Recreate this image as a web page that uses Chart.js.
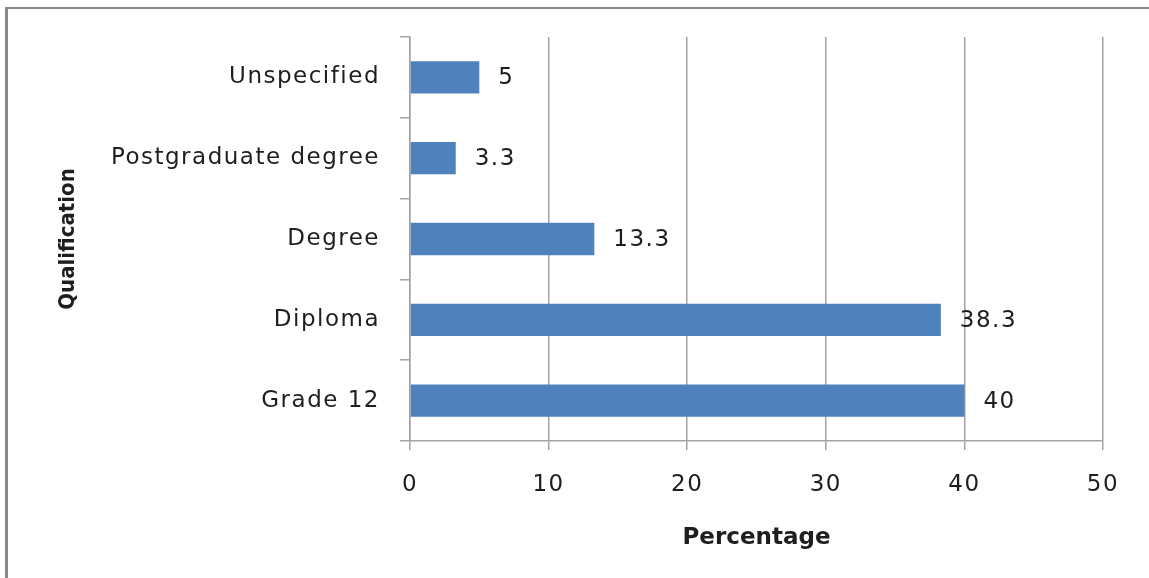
<!DOCTYPE html>
<html lang="en">
<head>
  <meta charset="UTF-8">
  <title>Qualification</title>
  <script src="https://cdn.jsdelivr.net/npm/chart.js"></script>
  <style>
    body {
      margin: 0;
      background: #fff;
      overflow: hidden;
    }
    .frame {
      position: absolute;
      left: 5px;
      top: 7px;
      width: 1300px;
      height: 700px;
      border-top: 2px solid #8a8a8a;
      border-left: 3px solid #8a8a8a;
    }
    .chart-box {
      position: absolute;
      left: 0;
      top: 0;
      width: 1149px;
      height: 578px;
    }
  </style>
</head>
<body>
  <div class="frame"></div>
  <div class="chart-box">
    <canvas id="qualChart" width="1149" height="578"></canvas>
  </div>

  <script>
    const categories = ["Unspecified", "Postgraduate degree", "Degree", "Diploma", "Grade 12"];
    const percentages = [5, 3.3, 13.3, 38.3, 40];
    const xTicks = [0, 10, 20, 30, 40, 50];

    const textColor = "#1e1e1e";
    const lineColor = "#a3a3a3";
    const labelFont = { family: "'DejaVu Sans', sans-serif", size: 23 };

    // the original text is drawn wide, so tick + value labels get some letter spacing.
    // titles are drawn in the grid layer (before datasets), labels after (ticks.z = 1)
    const valueLabels = {
      id: "valueLabels",
      afterDatasetsDraw(chart) {
        const ctx = chart.ctx;
        ctx.letterSpacing = "1.5px";
        const meta = chart.getDatasetMeta(0);
        ctx.save();
        ctx.font = "23px 'DejaVu Sans', sans-serif";
        ctx.fillStyle = textColor;
        ctx.textAlign = "left";
        ctx.textBaseline = "middle";
        meta.data.forEach((bar, i) => {
          ctx.fillText(String(percentages[i]), bar.x + 19, bar.y + 1);
        });
        ctx.restore();
      },
      afterDraw(chart) {
        chart.ctx.letterSpacing = "0px";
      }
    };

    new Chart(document.getElementById("qualChart"), {
      type: "bar",
      data: {
        labels: categories,
        datasets: [{
          data: percentages,
          backgroundColor: "#4f81bd",
          borderWidth: 0,
          barPercentage: 0.4,
          categoryPercentage: 1
        }]
      },
      options: {
        indexAxis: "y",
        responsive: false,
        animation: false,
        layout: { padding: { top: 37, right: 46, bottom: 0, left: 0 } },
        plugins: {
          legend: { display: false },
          tooltip: { enabled: false }
        },
        scales: {
          x: {
            min: 0,
            max: 50,
            afterBuildTicks(scale) {
              scale.ticks = xTicks.map(v => ({ value: v }));
            },
            afterFit(scale) { scale.height = 137; },
            grid: { color: lineColor, lineWidth: 1.5, tickLength: 9, drawTicks: true },
            border: { display: true, color: lineColor, width: 1.5 },
            ticks: { color: textColor, font: labelFont, padding: 21, maxRotation: 0, z: 1 },
            title: {
              display: true,
              text: "Percentage",
              color: textColor,
              font: { family: "'DejaVu Sans', sans-serif", size: 23, weight: "bold" },
              padding: { top: 0, bottom: 26 }
            }
          },
          y: {
            afterFit(scale) { scale.width = 410; },
            grid: { drawOnChartArea: false, drawTicks: true, tickLength: 10, color: lineColor, lineWidth: 1.5 },
            border: { display: true, color: lineColor, width: 1.5 },
            ticks: { color: textColor, font: labelFont, padding: 20, z: 1 },
            title: {
              display: true,
              text: "Qualification",
              color: textColor,
              font: { family: "'DejaVu Sans Condensed', sans-serif", size: 22, weight: "bold" },
              padding: { top: 55, bottom: 0 }
            }
          }
        }
      },
      plugins: [valueLabels]
    });
  </script>
</body>
</html>
